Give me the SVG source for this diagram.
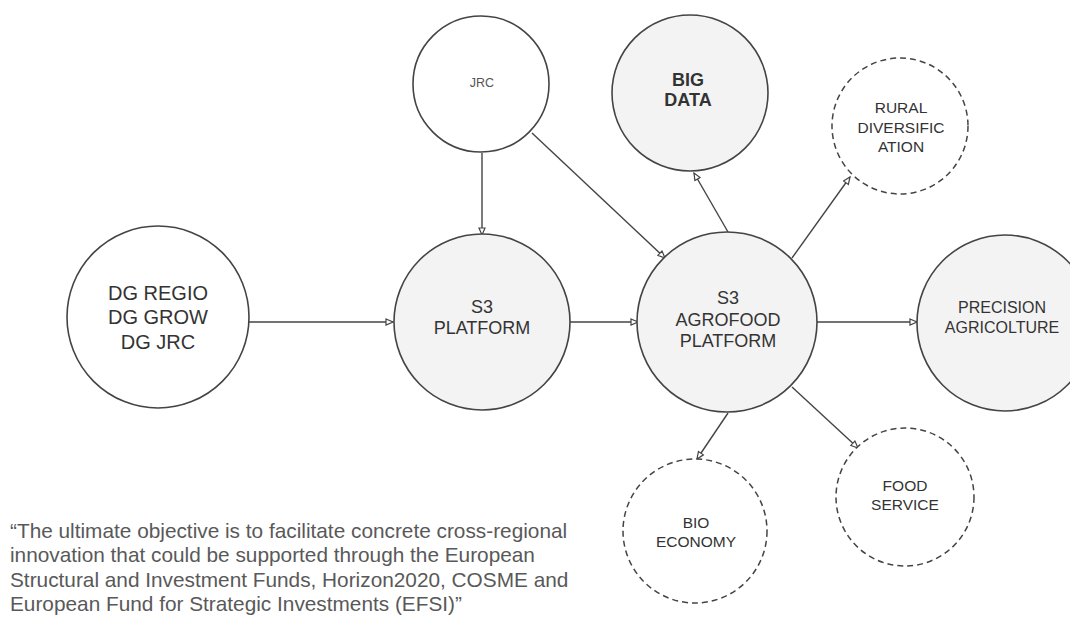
<svg xmlns="http://www.w3.org/2000/svg" width="1070" height="618" viewBox="0 0 1070 618">
<defs>
<marker id="arr" markerWidth="9" markerHeight="8" refX="8" refY="4" orient="auto" markerUnits="userSpaceOnUse">
<path d="M1,1 L8,4 L1,7 z" fill="#fff" stroke="#444" stroke-width="1.2"/>
</marker>
</defs>
<style>
.n{stroke:#444;stroke-width:1.6;fill:#fff}
.g{fill:#f3f3f3}
.d{stroke-dasharray:6 4;stroke-width:1.5}
.t{font-family:"Liberation Sans",Arial,sans-serif;fill:#333;text-anchor:middle}
.c{stroke:#444;stroke-width:1.4;fill:none;marker-end:url(#arr)}
.q{font-family:"Liberation Sans",Arial,sans-serif;fill:#595959;font-size:20.8px}
</style>
<rect width="1070" height="618" fill="#fff"/>
<g id="connectors">
<line class="c" x1="249" y1="322" x2="393" y2="322"/>
<line class="c" x1="482" y1="153" x2="482" y2="235"/>
<line class="c" x1="532" y1="133" x2="665" y2="258"/>
<line class="c" x1="570" y1="322" x2="638" y2="322"/>
<line class="c" x1="728" y1="232" x2="694" y2="173"/>
<line class="c" x1="792" y1="258" x2="850" y2="177"/>
<line class="c" x1="817" y1="322" x2="917" y2="322"/>
<line class="c" x1="728" y1="413" x2="697" y2="459"/>
<line class="c" x1="792" y1="387" x2="858" y2="448"/>
</g>
<g id="dg">
<circle class="n" cx="158" cy="317" r="91"/>
<text class="t" x="158" y="300" font-size="20">DG REGIO</text>
<text class="t" x="158" y="324" font-size="20">DG GROW</text>
<text class="t" x="158" y="349" font-size="20">DG JRC</text>
</g>
<g id="jrc">
<circle class="n" cx="481" cy="84" r="68"/>
<text class="t" x="482" y="87" font-size="12.5" style="fill:#555">JRC</text>
</g>
<g id="bigdata">
<circle class="n g" cx="690" cy="93" r="78"/>
<text class="t" x="688" y="86" font-size="18" font-weight="bold">BIG</text>
<text class="t" x="688" y="106" font-size="18" font-weight="bold">DATA</text>
</g>
<g id="rural">
<circle class="n d" cx="900" cy="126" r="68"/>
<text class="t" x="901" y="113" font-size="15.5">RURAL</text>
<text class="t" x="901" y="133" font-size="15.5">DIVERSIFIC</text>
<text class="t" x="901" y="152" font-size="15.5">ATION</text>
</g>
<g id="s3platform">
<circle class="n g" cx="482" cy="322" r="88"/>
<text class="t" x="482" y="313" font-size="18">S3</text>
<text class="t" x="482" y="334" font-size="18">PLATFORM</text>
</g>
<g id="agrofood">
<circle class="n g" cx="727" cy="322" r="90"/>
<text class="t" x="728" y="304" font-size="18">S3</text>
<text class="t" x="728" y="326" font-size="18">AGROFOOD</text>
<text class="t" x="728" y="347" font-size="18">PLATFORM</text>
</g>
<g id="precision">
<circle class="n g" cx="1005" cy="323" r="88"/>
<text class="t" x="1002" y="313" font-size="16">PRECISION</text>
<text class="t" x="1002" y="333" font-size="16">AGRICOLTURE</text>
</g>
<g id="bio">
<circle class="n d" cx="695" cy="531" r="72"/>
<text class="t" x="696" y="528" font-size="15.5">BIO</text>
<text class="t" x="696" y="547" font-size="15.5">ECONOMY</text>
</g>
<g id="food">
<circle class="n d" cx="905" cy="497" r="69"/>
<text class="t" x="905" y="491" font-size="15.5">FOOD</text>
<text class="t" x="905" y="510" font-size="15.5">SERVICE</text>
</g>
<g id="quote">
<text class="q" x="10" y="538">“The ultimate objective is to facilitate concrete cross-regional</text>
<text class="q" x="10" y="562">innovation that could be supported through the European</text>
<text class="q" x="10" y="587">Structural and Investment Funds, Horizon2020, COSME and</text>
<text class="q" x="10" y="611">European Fund for Strategic Investments (EFSI)”</text>
</g>
</svg>
